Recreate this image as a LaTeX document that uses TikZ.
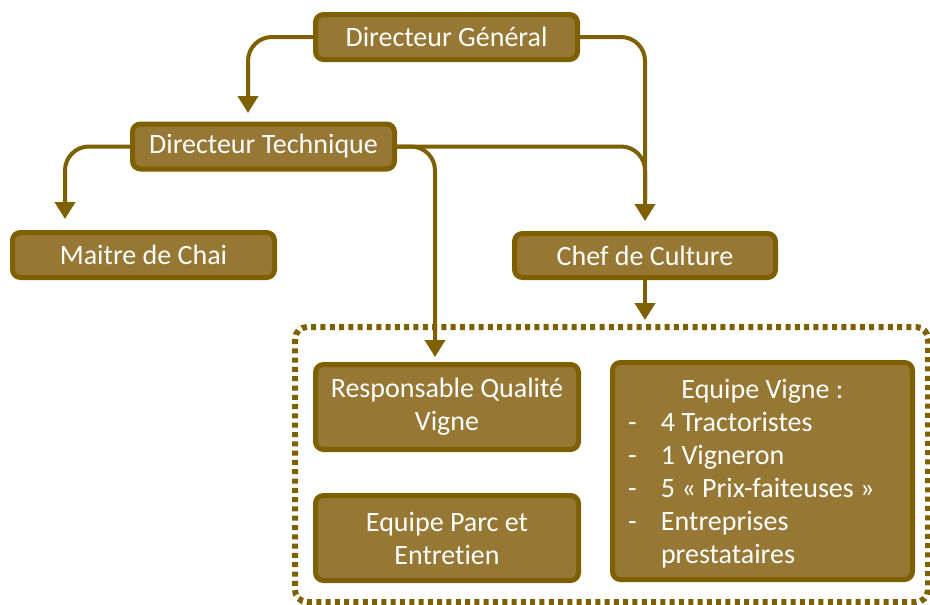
\documentclass[tikz,border=0pt]{standalone}
\usepackage{fontspec}
\setmainfont{Carlito}[Ligatures=NoCommon]
\usetikzlibrary{arrows.meta}
\definecolor{dk}{RGB}{127,96,0}
\definecolor{fl}{RGB}{151,119,52}
\tikzset{
  orgbox/.style={draw=dk, fill=fl, line width=5pt, rounded corners=8pt, text=white,
    font=\fontsize{28}{33}\selectfont, inner sep=0pt, align=center},
  link/.style={draw=dk, line width=4pt, rounded corners=24pt,
    -{Triangle[width=20pt,length=17pt]}},
  team/.style={draw=dk, line width=6pt, dash pattern=on 5pt off 4.3pt, rounded corners=12pt}
}
\begin{document}
\begin{tikzpicture}[x=1pt,y=-1pt]
\useasboundingbox (0,0) rectangle (930,605);
\begin{scope}
\clip (0,0) rectangle (930,605);
\draw[team] (295,327) rectangle (928,602);
\end{scope}
\node[orgbox, minimum width=262pt, minimum height=45pt] (dg) at (446.5,37) {Directeur Général};
\node[orgbox, minimum width=262pt, minimum height=45pt] (dt) at (263.5,146.5) {Directeur Technique};
\node[orgbox, minimum width=262pt, minimum height=45pt] (mc) at (143.5,255) {Maitre de Chai};
\node[orgbox, minimum width=261pt, minimum height=44pt] (cc) at (645,255.5) {Chef de Culture};
\node[orgbox, minimum width=263pt, minimum height=85pt] (rq) at (447,407) {Responsable Qualité\\Vigne};
\node[orgbox, minimum width=263pt, minimum height=85pt] (ep) at (447,538) {Equipe Parc et\\Entretien};
\node[orgbox, minimum width=300pt, minimum height=217pt] (ev) at (762.5,471) {%
  \begin{tabular}{@{}p{33pt}@{}p{236pt}@{}}
  \multicolumn{2}{c}{\rule{0pt}{29pt}Equipe Vigne :}\\
  - & 4 Tractoristes\\
  - & 1 Vigneron\\
  - & 5 « Prix-faiteuses »\\
  - & Entreprises\\
    & prestataires
  \end{tabular}};
\coordinate (dgl) at (248,37);
\coordinate (dgr) at (645,37);
\coordinate (dtl) at (65,146.5);
\coordinate (dtm) at (435,146.5);
\coordinate (dtr) at (645,146.5);
\coordinate (teamtop) at (645,320);
\draw[link] (dg.west) -- (dgl) -- (248,113);
\draw[link] (dg.east) -- (dgr) -- (645,221);
\draw[link] (dt.west) -- (dtl) -- (65,219);
\draw[link] (dt.east) -- (dtm) -- (435,357);
\draw[draw=dk, line width=4pt, rounded corners=24pt] (dt.east) -- (dtr) -- (645,200);
\draw[link] (cc.south) -- (teamtop);
\end{tikzpicture}
\end{document}
